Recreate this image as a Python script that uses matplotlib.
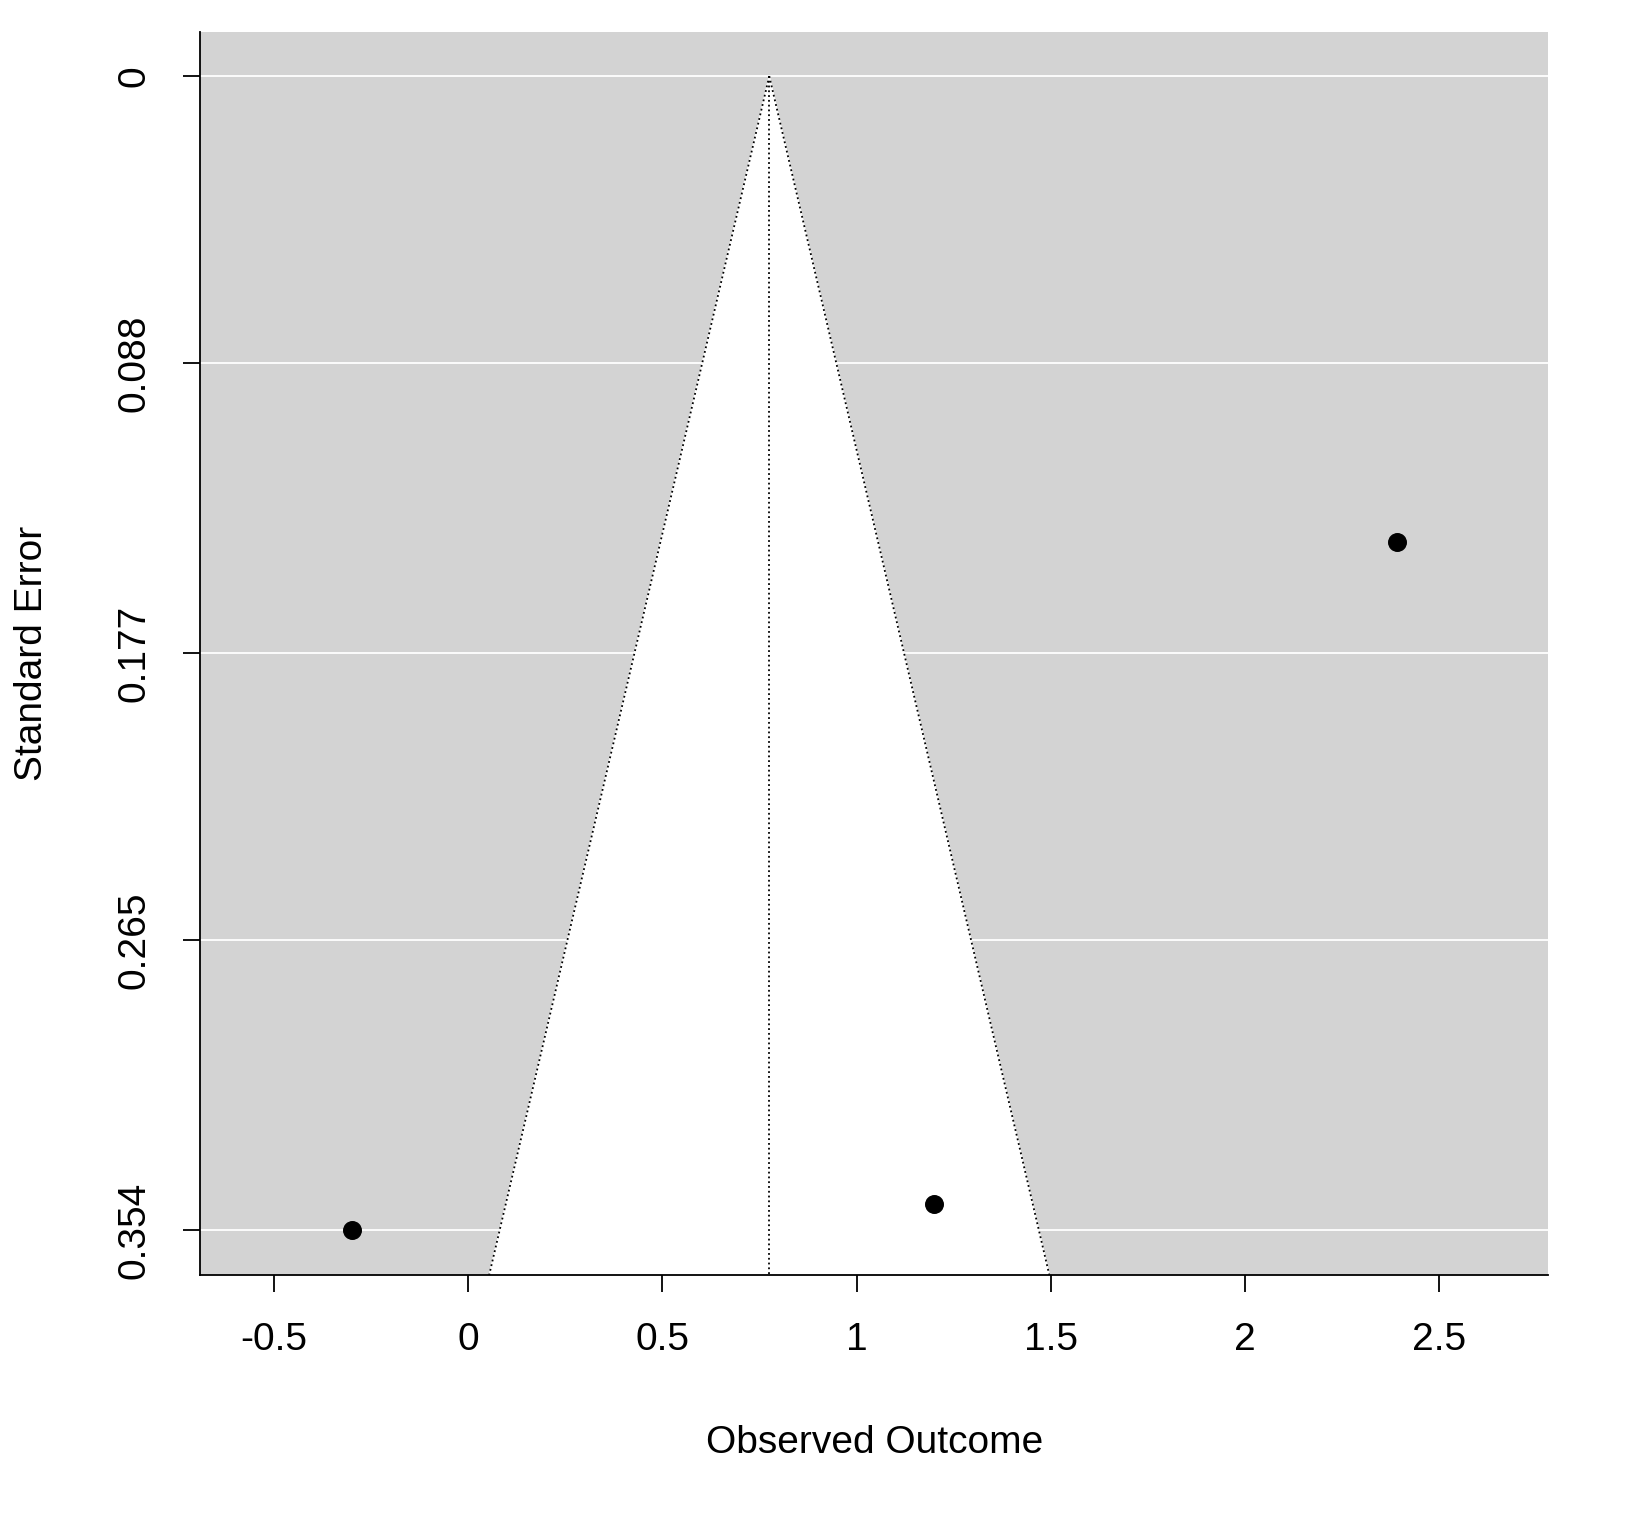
import numpy as np
import matplotlib.pyplot as plt

plt.rcParams['font.family'] = ['Liberation Sans', 'DejaVu Sans']

# study estimates and standard errors
effects = [-0.30, 1.20, 2.39]
std_errors = [0.354, 0.346, 0.143]
pooled = 0.775
y_ticks = [0, 0.088, 0.177, 0.265, 0.354]
x_ticks = [-0.5, 0, 0.5, 1, 1.5, 2, 2.5]
x_labels = ['-0.5', '0', '0.5', '1', '1.5', '2', '2.5']

fig = plt.figure(figsize=(16.28, 15.31), dpi=100)
ax = fig.add_axes([0.1229, 0.1672, 0.8281, 0.8118])

xlim = (-0.69, 2.78)
ymax = 0.3678
ax.set_xlim(*xlim)
ax.set_ylim(ymax, -0.0135)
ax.set_facecolor('lightgray')

# funnel region
se = np.array([0, ymax])
lo = pooled - 1.96 * se
hi = pooled + 1.96 * se
ax.fill([lo[0], lo[1], hi[1]], [0, ymax, ymax], color='white', zorder=1)
for yt in y_ticks:
    ax.axhline(yt, color='white', lw=1.3, zorder=0.5)
ax.plot(lo, se, color='black', ls=':', lw=1.3, zorder=2)
ax.plot(hi, se, color='black', ls=':', lw=1.3, zorder=2)
ax.plot([pooled, pooled], [0, ymax], color='black', ls=':', lw=1.3, zorder=2)

ax.scatter(effects, std_errors, s=160, color='black', zorder=3)

ax.set_xticks(x_ticks)
ax.set_xticklabels(x_labels, fontsize=28)
ax.set_yticks(y_ticks)
ax.set_yticklabels(['0', '0.088', '0.177', '0.265', '0.354'], fontsize=28,
                   rotation=90, va='center')
ax.tick_params(length=12, width=1.3, pad=22)
ax.spines['top'].set_visible(False)
ax.spines['right'].set_visible(False)
ax.spines['left'].set_linewidth(1.3)
ax.spines['bottom'].set_linewidth(1.3)
ax.set_xlabel('Observed Outcome', fontsize=28, labelpad=48)
ax.set_ylabel('Standard Error', fontsize=28, labelpad=48)

fig.savefig('out.png', dpi=100)
